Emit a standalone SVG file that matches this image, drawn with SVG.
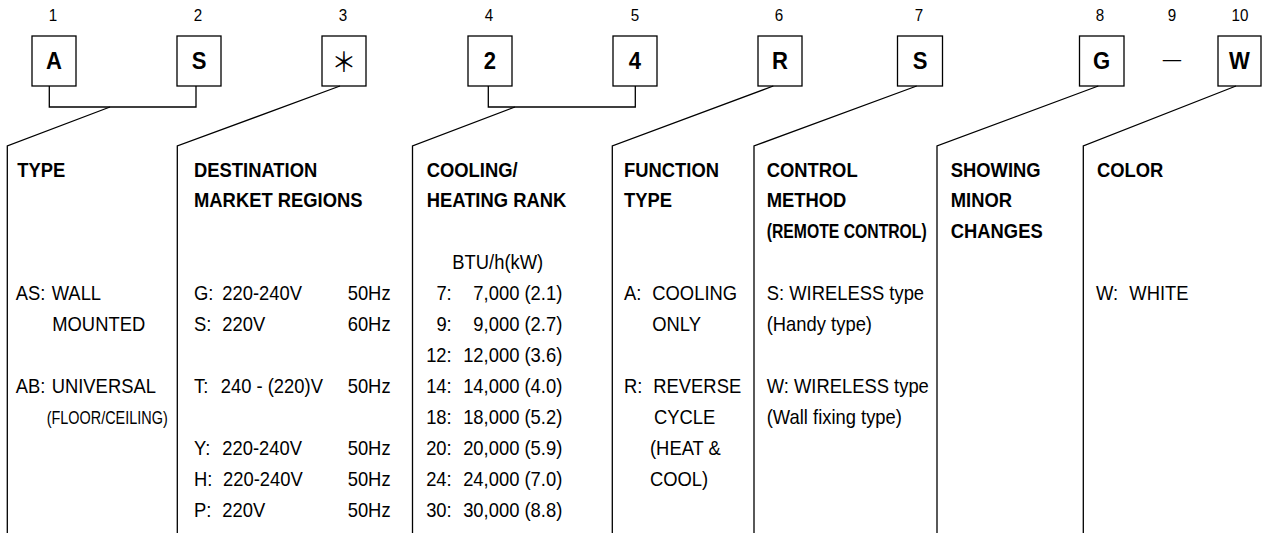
<svg xmlns="http://www.w3.org/2000/svg" width="1268" height="533" viewBox="0 0 1268 533">
<style>
  text { font-family: "Liberation Sans", Arial, Helvetica, sans-serif; font-size: 20px; fill: #000; }
  .b { font-weight: bold; }
  .num { font-size: 16.5px; text-anchor: middle; }
  .code { font-size: 24px; font-weight: bold; text-anchor: middle; }
  .ast { font-family: "Noto Sans CJK JP", "DejaVu Sans", sans-serif; font-size: 27px; text-anchor: middle; }
  .e { text-anchor: end; }
  .box { fill: #fff; stroke: #000; stroke-width: 1.3; }
  .ln { fill: none; stroke: #000; stroke-width: 1.3; }
</style>
<rect width="1268" height="533" fill="#fff"/>

<!-- code boxes -->
<g id="box-1"><rect class="box" x="32" y="36" width="44" height="50"/><g transform="scale(0.92 1)"><text class="num" x="57.6" y="21.5">1</text><text class="code" x="58.7" y="69">A</text></g></g>
<g id="box-2"><rect class="box" x="177" y="36" width="44" height="50"/><g transform="scale(0.92 1)"><text class="num" x="215.2" y="21.5">2</text><text class="code" x="216.3" y="69">S</text></g></g>
<g id="box-3"><rect class="box" x="322" y="36" width="44" height="50"/><g transform="scale(0.92 1)"><text class="num" x="372.8" y="21.5">3</text><text class="ast" x="373.9" y="72">＊</text></g></g>
<g id="box-4"><rect class="box" x="468" y="36" width="44" height="50"/><g transform="scale(0.92 1)"><text class="num" x="531.5" y="21.5">4</text><text class="code" x="532.6" y="69">2</text></g></g>
<g id="box-5"><rect class="box" x="613" y="36" width="44" height="50"/><g transform="scale(0.92 1)"><text class="num" x="690.2" y="21.5">5</text><text class="code" x="690.2" y="69">4</text></g></g>
<g id="box-6"><rect class="box" x="758" y="36" width="44" height="50"/><g transform="scale(0.92 1)"><text class="num" x="846.7" y="21.5">6</text><text class="code" x="847.8" y="69">R</text></g></g>
<g id="box-7"><rect class="box" x="897.5" y="36" width="45" height="50"/><g transform="scale(0.92 1)"><text class="num" x="998.9" y="21.5">7</text><text class="code" x="1000" y="69">S</text></g></g>
<g id="box-8"><rect class="box" x="1079.5" y="36" width="44.5" height="50"/><g transform="scale(0.92 1)"><text class="num" x="1195.7" y="21.5">8</text><text class="code" x="1197.3" y="69">G</text></g></g>
<g id="sep-9"><g transform="scale(0.92 1)"><text class="num" x="1273.9" y="21.5">9</text><text x="1273.9" y="66.5" style="text-anchor:middle">—</text></g></g>
<g id="box-10"><rect class="box" x="1218" y="36" width="43" height="50"/><g transform="scale(0.92 1)"><text class="num" x="1347.8" y="21.5">10</text><text class="code" x="1347.3" y="69">W</text></g></g>

<!-- connectors -->
<g id="connectors">
  <path class="ln" d="M49.3,86 V107 H196 V86"/>
  <path class="ln" d="M110,107 L7.3,146 V533"/>
  <path class="ln" d="M340,86 L177.3,146 V533"/>
  <path class="ln" d="M488.3,86 V107 H635.3 V86"/>
  <path class="ln" d="M515,107 L412.5,146 V533"/>
  <path class="ln" d="M773.3,86 L612.3,146 V533"/>
  <path class="ln" d="M916.7,86 L754,146 V533"/>
  <path class="ln" d="M1098.3,86 L937,146 V533"/>
  <path class="ln" d="M1236,86 L1083.3,146 V533"/>
</g>

<!-- columns -->
<g id="col-type" transform="scale(0.92 1)">
  <text class="b" x="18.8" y="177">TYPE</text>
  <text x="17.1" y="300">AS:<tspan x="56.2">WALL</tspan></text>
  <text x="56.8" y="331">MOUNTED</text>
  <text x="17.1" y="393">AB:<tspan x="56.2">UNIVERSAL</tspan></text>
  <text x="50.8" y="424" style="font-size:18.5px" textLength="131.5" lengthAdjust="spacingAndGlyphs">(FLOOR/CEILING)</text>
</g>

<g id="col-destination" transform="scale(0.92 1)">
  <text class="b" x="210.9" y="177">DESTINATION</text>
  <text class="b" x="210.9" y="207">MARKET REGIONS</text>
  <text x="210.9" y="300">G:<tspan x="241.6">220-240V</tspan><tspan x="377.9">50Hz</tspan></text>
  <text x="210.9" y="331">S:<tspan x="241.6">220V</tspan><tspan x="377.9">60Hz</tspan></text>
  <text x="210.9" y="393">T:<tspan x="239.9">240 - (220)V</tspan><tspan x="377.9">50Hz</tspan></text>
  <text x="210.9" y="455">Y:<tspan x="241.6">220-240V</tspan><tspan x="377.9">50Hz</tspan></text>
  <text x="210.9" y="486">H:<tspan x="242.4">220-240V</tspan><tspan x="377.9">50Hz</tspan></text>
  <text x="210.9" y="517">P:<tspan x="241.6">220V</tspan><tspan x="377.9">50Hz</tspan></text>
</g>

<g id="col-cooling" transform="scale(0.92 1)">
  <text class="b" x="463.8" y="177">COOLING/</text>
  <text class="b" x="463.8" y="207">HEATING RANK</text>
  <text x="491.6" y="269">BTU/h(kW)</text>
  <text class="e" x="491" y="300">7:</text><text class="e" x="611.2" y="300">7,000 (2.1)</text>
  <text class="e" x="491" y="331">9:</text><text class="e" x="611.2" y="331">9,000 (2.7)</text>
  <text class="e" x="491" y="362">12:</text><text class="e" x="611.2" y="362">12,000 (3.6)</text>
  <text class="e" x="491" y="393">14:</text><text class="e" x="611.2" y="393">14,000 (4.0)</text>
  <text class="e" x="491" y="424">18:</text><text class="e" x="611.2" y="424">18,000 (5.2)</text>
  <text class="e" x="491" y="455">20:</text><text class="e" x="611.2" y="455">20,000 (5.9)</text>
  <text class="e" x="491" y="486">24:</text><text class="e" x="611.2" y="486">24,000 (7.0)</text>
  <text class="e" x="491" y="517">30:</text><text class="e" x="611.2" y="517">30,000 (8.8)</text>
</g>

<g id="col-function" transform="scale(0.92 1)">
  <text class="b" x="678.3" y="177">FUNCTION</text>
  <text class="b" x="678.3" y="207">TYPE</text>
  <text x="678.3" y="300">A:<tspan x="709">COOLING</tspan></text>
  <text x="709" y="331">ONLY</text>
  <text x="678.3" y="393">R:<tspan x="710.1">REVERSE</tspan></text>
  <text x="710.9" y="424">CYCLE</text>
  <text x="706.5" y="455">(HEAT &amp;</text>
  <text x="706.5" y="486">COOL)</text>
</g>

<g id="col-control" transform="scale(0.92 1)">
  <text class="b" x="833.4" y="177">CONTROL</text>
  <text class="b" x="833.4" y="207">METHOD</text>
  <text class="b" x="833.4" y="238" textLength="173.9" lengthAdjust="spacingAndGlyphs">(REMOTE CONTROL)</text>
  <text x="833.4" y="300">S: WIRELESS type</text>
  <text x="833.4" y="331">(Handy type)</text>
  <text x="833.4" y="393">W: WIRELESS type</text>
  <text x="833.4" y="424">(Wall fixing type)</text>
</g>

<g id="col-minor" transform="scale(0.92 1)">
  <text class="b" x="1033.4" y="177">SHOWING</text>
  <text class="b" x="1033.4" y="207">MINOR</text>
  <text class="b" x="1033.4" y="238">CHANGES</text>
</g>

<g id="col-color" transform="scale(0.92 1)">
  <text class="b" x="1192.4" y="177">COLOR</text>
  <text x="1191.3" y="300">W:<tspan x="1227.5">WHITE</tspan></text>
</g>
</svg>
